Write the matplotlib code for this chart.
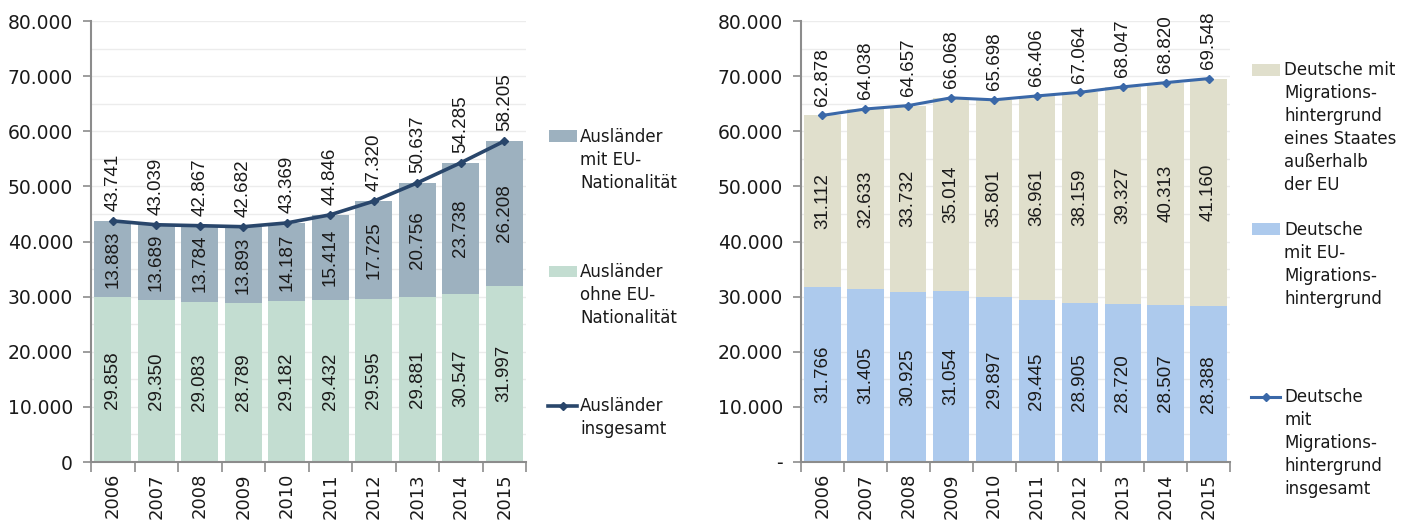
import numpy as np
import matplotlib
matplotlib.use("Agg")
import matplotlib.pyplot as plt
from matplotlib.patches import Rectangle
from matplotlib.lines import Line2D
from matplotlib.ticker import FuncFormatter, MultipleLocator

plt.rcParams['font.family'] = ['DejaVu Sans']

years = ["2006", "2007", "2008", "2009", "2010", "2011", "2012", "2013", "2014", "2015"]

# Left chart
ausl_ohne_eu = [29858, 29350, 29083, 28789, 29182, 29432, 29595, 29881, 30547, 31997]
ausl_mit_eu = [13883, 13689, 13784, 13893, 14187, 15414, 17725, 20756, 23738, 26208]
ausl_gesamt = [43741, 43039, 42867, 42682, 43369, 44846, 47320, 50637, 54285, 58205]

# Right chart
dt_eu = [31766, 31405, 30925, 31054, 29897, 29445, 28905, 28720, 28507, 28388]
dt_noneu = [31112, 32633, 33732, 35014, 35801, 36961, 38159, 39327, 40313, 41160]
dt_gesamt = [62878, 64038, 64657, 66068, 65698, 66406, 67064, 68047, 68820, 69548]

W, H = 1413, 523
fig = plt.figure(figsize=(W / 100, H / 100), dpi=100)

def fx(px):
    return px / W

def fy(py):
    return 1 - py / H

def fmt_num(v):
    return f"{v:,.0f}".replace(",", ".")

TXT = "#1a1a1a"
SPINE = "#8c8c8c"
LBL_FONT = dict(family=["Liberation Sans", "DejaVu Sans"], fontsize=13.5, color=TXT)

def make_axes(x0, x1, zero_dash=False):
    ax = fig.add_axes([fx(x0), fy(462), fx(x1 - x0), (462 - 21) / H])
    ax.set_xlim(-0.5, len(years) - 0.5)
    ax.set_ylim(0, 80000)
    for s in ["top", "right"]:
        ax.spines[s].set_visible(False)
    for s in ["left", "bottom"]:
        ax.spines[s].set_color(SPINE)
        ax.spines[s].set_linewidth(1.5)
    ax.yaxis.set_major_locator(MultipleLocator(10000))
    ax.yaxis.set_minor_locator(MultipleLocator(5000))
    if zero_dash:
        ax.yaxis.set_major_formatter(FuncFormatter(lambda v, p: "-" if v == 0 else fmt_num(v)))
    else:
        ax.yaxis.set_major_formatter(FuncFormatter(lambda v, p: fmt_num(v)))
    ax.grid(axis="y", which="both", color="#ececec", linewidth=1.0, zorder=0)
    ax.set_axisbelow(True)
    ax.tick_params(axis="y", which="major", length=6, color=SPINE, width=1.2,
                   labelsize=13.5, labelcolor=TXT, pad=7)
    ax.tick_params(axis="y", which="minor", length=0)
    ax.set_xticks(np.arange(len(years)))
    ax.set_xticklabels(years, rotation=90)
    ax.set_xticks(np.arange(len(years) + 1) - 0.5, minor=True)
    ax.tick_params(axis="x", which="major", length=0, labelsize=13, labelcolor=TXT, pad=8)
    ax.tick_params(axis="x", which="minor", length=7, color=SPINE, width=1.2)
    return ax

x = np.arange(len(years))
BW = 0.85

# ---- Left ----
axL = make_axes(91, 526)
c_bot_L, c_top_L, c_line_L = "#c3ddd1", "#9db1bf", "#29466b"
b1 = axL.bar(x, ausl_ohne_eu, BW, color=c_bot_L, zorder=2)
b2 = axL.bar(x, ausl_mit_eu, BW, bottom=ausl_ohne_eu, color=c_top_L, zorder=2)
axL.bar_label(b1, labels=[fmt_num(v) for v in ausl_ohne_eu], label_type="center",
              rotation=90, **LBL_FONT)
axL.bar_label(b2, labels=[fmt_num(v) for v in ausl_mit_eu], label_type="center",
              rotation=90, **LBL_FONT)
axL.plot(x, ausl_gesamt, color=c_line_L, lw=2.6, marker="D", ms=4, zorder=4)
for xi, v in zip(x, ausl_gesamt):
    axL.annotate(fmt_num(v), (xi, v), xytext=(0, 7), textcoords="offset points",
                 rotation=90, ha="center", va="bottom", **LBL_FONT)

# ---- Right ----
axR = make_axes(801, 1230, zero_dash=True)
c_bot_R, c_top_R, c_line_R = "#adcaed", "#e0dfcc", "#3a68a8"
r1 = axR.bar(x, dt_eu, BW, color=c_bot_R, zorder=2)
r2 = axR.bar(x, dt_noneu, BW, bottom=dt_eu, color=c_top_R, zorder=2)
axR.bar_label(r1, labels=[fmt_num(v) for v in dt_eu], label_type="center",
              rotation=90, **LBL_FONT)
axR.bar_label(r2, labels=[fmt_num(v) for v in dt_noneu], label_type="center",
              rotation=90, **LBL_FONT)
axR.plot(x, dt_gesamt, color=c_line_R, lw=2.2, marker="D", ms=4, zorder=4)
for xi, v in zip(x, dt_gesamt):
    axR.annotate(fmt_num(v), (xi, v), xytext=(0, 7), textcoords="offset points",
                 rotation=90, ha="center", va="bottom", **LBL_FONT)

# ---- Legends (manual) ----
def legend_patch(x0, x1, yc, color):
    fig.add_artist(Rectangle((fx(x0), fy(yc + 5.5)), fx(x1 - x0), 11 / H,
                             transform=fig.transFigure, facecolor=color, edgecolor="none"))

def legend_line(x0, x1, yc, color, lw):
    fig.add_artist(Line2D([fx(x0), fx(x1)], [fy(yc), fy(yc)], transform=fig.transFigure,
                          color=color, lw=lw))
    fig.add_artist(Line2D([fx((x0 + x1) / 2)], [fy(yc)], transform=fig.transFigure,
                          color=color, marker="D", ms=4, lw=0))

def legend_text(x0, y_first, lines, step=23):
    for i, t in enumerate(lines):
        fig.text(fx(x0), fy(y_first + i * step), t, ha="left", va="center",
                 fontsize=12, color=TXT)

legend_patch(549, 577, 136, c_top_L)
legend_text(580, 137, ["Ausländer", "mit EU-", "Nationalität"])
legend_patch(549, 577, 271, c_bot_L)
legend_text(580, 272, ["Ausländer", "ohne EU-", "Nationalität"])
legend_line(548, 577, 406, c_line_L, 2.6)
legend_text(580, 406, ["Ausländer", "insgesamt"])

legend_patch(1252, 1280, 70, c_top_R)
legend_text(1284, 70, ["Deutsche mit", "Migrations-", "hintergrund", "eines Staates",
                       "außerhalb", "der EU"])
legend_patch(1252, 1280, 229, c_bot_R)
legend_text(1284, 230, ["Deutsche", "mit EU-", "Migrations-", "hintergrund"])
legend_line(1251, 1280, 397, c_line_R, 2.2)
legend_text(1284, 397, ["Deutsche", "mit", "Migrations-", "hintergrund", "insgesamt"])

fig.savefig("out.png", dpi=100)
